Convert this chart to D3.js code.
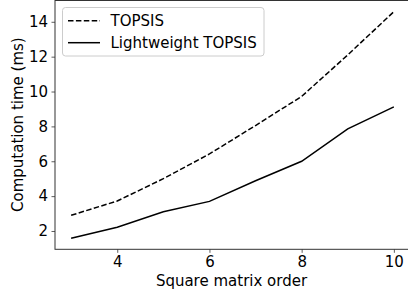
<!DOCTYPE html>
<html>
<head>
<meta charset="utf-8">
<script src="https://cdn.jsdelivr.net/npm/d3@7"></script>
<style>
  body { margin: 0; background: #fff; }
  svg { display: block; font-family: "DejaVu Sans", sans-serif; }
</style>
</head>
<body>
<div id="chart"></div>
<script>
// data
var orders = [3, 4, 5, 6, 7, 8, 9, 10];
var topsis = [2.9, 3.72, 5.0, 6.42, 8.05, 9.72, 12.1, 14.58];
var lightweight = [1.58, 2.22, 3.1, 3.7, 4.88, 6.0, 7.86, 9.12];
var xTicks = [4, 6, 8, 10];
var yTicks = [2, 4, 6, 8, 10, 12, 14];
var seriesNames = ["TOPSIS", "Lightweight TOPSIS"];

var width = 408, height = 297;
var margin = {left: 55, top: 0, right: -2, bottom: 47.7};

var svg = d3.select("#chart").append("svg")
    .attr("width", width)
    .attr("height", height);

// scales, with matplotlib style 5% padding
var xScale = d3.scaleLinear()
    .domain([2.65, 10.35])
    .range([margin.left, width - margin.right]);

var yScale = d3.scaleLinear()
    .domain([0.95, 15.25])
    .range([height - margin.bottom, margin.top]);

// lines
var line = d3.line()
    .x(function(d, i){ return xScale(orders[i]); })
    .y(function(d){ return yScale(d); });

svg.append("path")
    .datum(topsis)
    .attr("d", line)
    .attr("fill", "none")
    .attr("stroke", "#000")
    .attr("stroke-width", 1.5)
    .attr("stroke-dasharray", "5.5,2.4");

svg.append("path")
    .datum(lightweight)
    .attr("d", line)
    .attr("fill", "none")
    .attr("stroke", "#000")
    .attr("stroke-width", 1.5);

// axes
var xAxis = d3.axisBottom(xScale).tickValues(xTicks).tickSize(3.5).tickPadding(3.5).tickFormat(d3.format("d"));
var yAxis = d3.axisLeft(yScale).tickValues(yTicks).tickSize(3.5).tickPadding(3.5).tickFormat(d3.format("d"));

var gx = svg.append("g")
    .attr("transform", "translate(0," + (height - margin.bottom) + ")")
    .call(xAxis);
var gy = svg.append("g")
    .attr("transform", "translate(" + margin.left + ",0)")
    .call(yAxis);

[gx, gy].forEach(function(g){
    g.select(".domain").remove();
    g.selectAll(".tick line").attr("stroke", "#333").attr("stroke-width", 0.8);
    g.selectAll(".tick text").attr("fill", "#000").style("font-size", "15px").style("font-family", "DejaVu Sans");
});

// spines
svg.append("rect")
    .attr("x", xScale.range()[0])
    .attr("y", yScale.range()[1] + 0.5)
    .attr("width", xScale.range()[1] - xScale.range()[0])
    .attr("height", yScale.range()[0] - yScale.range()[1] - 0.5)
    .attr("fill", "none")
    .attr("stroke", "#333")
    .attr("stroke-width", 1);

// axis labels
svg.append("text")
    .attr("x", (margin.left + 408) / 2)
    .attr("y", 286)
    .attr("text-anchor", "middle")
    .style("font-size", "15px")
    .text("Square matrix order");

svg.append("text")
    .attr("transform", "translate(23," + ((yScale.range()[0] + yScale.range()[1]) / 2) + ") rotate(-90)")
    .attr("text-anchor", "middle")
    .style("font-size", "15px")
    .text("Computation time (ms)");

// legend
var legend = svg.append("g").attr("transform", "translate(62.5,7.5)");
legend.append("rect")
    .attr("width", 201.5)
    .attr("height", 48.5)
    .attr("rx", 3)
    .attr("fill", "#fff")
    .attr("fill-opacity", 0.8)
    .attr("stroke", "#ccc")
    .attr("stroke-width", 1);

seriesNames.forEach(function(name, i){
    var yy = 13.2 + i * 22;
    legend.append("line")
        .attr("x1", 5.5).attr("x2", 37.5)
        .attr("y1", yy).attr("y2", yy)
        .attr("stroke", "#000")
        .attr("stroke-width", 1.5)
        .attr("stroke-dasharray", i === 0 ? "5.5,2.4" : null);
    legend.append("text")
        .attr("x", 48)
        .attr("y", yy + 5.3)
        .style("font-size", "15px")
        .text(name);
});
</script>
</body>
</html>
